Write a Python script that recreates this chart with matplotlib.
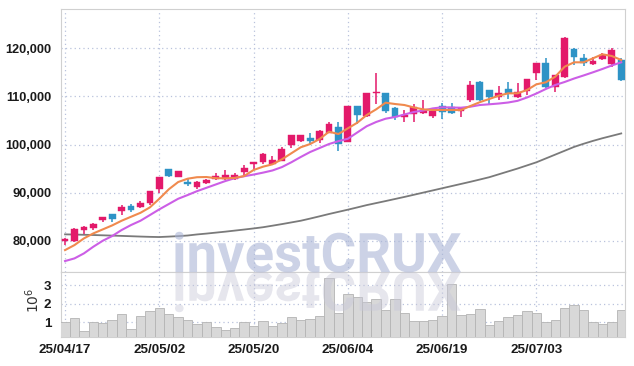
import matplotlib
matplotlib.use("Agg")
import matplotlib.pyplot as plt
from matplotlib.patches import PathPatch
from matplotlib.textpath import TextPath
from matplotlib.font_manager import FontProperties
from matplotlib.transforms import Affine2D, IdentityTransform
from matplotlib.ticker import FuncFormatter

# ----------------------------
# Data
# ----------------------------
dates = ["25/04/17", "25/05/02", "25/05/20", "25/06/04", "25/06/19", "25/07/03"]
date_pos = [0, 10, 20, 30, 40, 50]

opens = [79860, 79900, 82200, 82700, 84300, 85500, 86160, 87200, 87060, 87830,
         90800, 94900, 93300, 92260, 91220, 91920, 92750, 92750, 92750, 94350,
         96000, 96430, 96000, 96630, 99890, 100790, 101350, 100930, 102460, 103570,
         100600, 108070, 105920, 110700, 110710, 107650, 105780, 106280, 106610, 105980,
         107940, 107740, 107030, 109250, 113000, 111330, 109940, 111540, 109810, 111190,
         114940, 116950, 112020, 114100, 119790, 118060, 116740, 117780, 116740, 117570]
highs = [80500, 82700, 83000, 83600, 85000, 85600, 87400, 87600, 88200, 90400,
         93300, 94950, 94500, 92900, 92350, 92800, 94000, 94690, 94000, 95730,
         96400, 98230, 97600, 99540, 101950, 101950, 102320, 103010, 104740, 104740,
         108050, 108100, 110750, 114800, 110750, 107700, 107170, 108350, 109250, 107200,
         108560, 108690, 107860, 113210, 113200, 111400, 112230, 113060, 112720, 113700,
         117000, 117920, 114500, 122300, 120100, 118760, 118260, 119000, 120000, 117900]
lows = [79080, 79800, 81320, 82300, 83800, 83900, 85300, 85900, 86700, 87400,
        89970, 93300, 93200, 91400, 90740, 91800, 92700, 92600, 92600, 93580,
        94830, 95940, 95900, 96500, 99200, 100500, 99890, 100370, 102300, 98640,
        100500, 104200, 105800, 108360, 106480, 105090, 104610, 104740, 106300, 105440,
        105230, 106300, 105780, 108900, 109000, 108210, 109250, 109460, 109600, 110290,
        113410, 111680, 110980, 113900, 116530, 116390, 116600, 117500, 116180, 113300]
closes = [80400, 82400, 82800, 83460, 84900, 84500, 87000, 86370, 87900, 90320,
          93240, 93440, 94480, 91840, 92260, 92600, 93440, 93580, 93580, 95110,
          96290, 98020, 96770, 99000, 101900, 101900, 100790, 102800, 104200, 100100,
          108000, 106130, 110700, 110900, 107040, 105780, 106200, 107740, 107170, 106960,
          106700, 106480, 107590, 112370, 109250, 109810, 110640, 110640, 110850, 113620,
          116950, 112020, 114380, 122220, 118260, 116880, 117360, 118610, 119650, 113410]

ma5 = [78050, 79090, 80480, 81520, 82350, 83180, 84150, 84980, 85800, 86930,
       88720, 90680, 92200, 92890, 93200, 93240, 93000, 92970, 93050, 93450,
       94700, 95390, 95880, 96920, 98170, 99420, 100100, 101140, 102660, 102180,
       103360, 104530, 106130, 107310, 108690, 108420, 108210, 107700, 107310, 107170,
       107170, 107170, 107170, 108000, 108800, 109460, 110150, 110640, 110640, 111330,
       112510, 112930, 114100, 116180, 117090, 117090, 117920, 118760, 118400, 117570]
ma20 = [75770, 76320, 77360, 78750, 79990, 80970, 82220, 83260, 84150, 85330,
        86520, 87620, 88720, 89490, 90300, 91000, 91700, 92400, 93000, 93400,
        93750, 94150, 94600, 95300, 96300, 97400, 98440, 99270, 100100, 100700,
        101200, 102500, 103800, 104680, 105360, 105720, 106240, 106760, 107070, 107500,
        107740, 107690, 107650, 107860, 108210, 108360, 108520, 108730, 109080, 109770,
        110600, 111540, 112370, 113000, 113720, 114350, 115010, 115700, 116430, 117090]
ma60 = [81320, 81280, 81230, 81180, 81120, 81060, 81000, 80930, 80860, 80800,
        80760, 80850, 80950, 81080, 81300, 81480, 81680, 81880, 82100, 82320,
        82550, 82800, 83120, 83450, 83800, 84150, 84600, 85070, 85550, 86000,
        86450, 86920, 87400, 87820, 88240, 88670, 89100, 89550, 90000, 90450,
        90900, 91350, 91800, 92250, 92720, 93200, 93800, 94400, 95000, 95650,
        96300, 97100, 97900, 98700, 99500, 100150, 100750, 101300, 101800, 102300]

volumes = [1.04, 1.25, 0.54, 1.04, 0.98, 1.12, 1.46, 0.66, 1.36, 1.62,
           1.79, 1.46, 1.30, 1.12, 0.93, 1.04, 0.77, 0.59, 0.71, 1.04,
           0.82, 1.09, 0.82, 0.98, 1.30, 1.14, 1.20, 1.36, 3.39, 1.52,
           2.54, 2.38, 2.11, 2.27, 1.68, 2.27, 1.52, 1.07, 1.07, 1.12,
           1.36, 3.07, 1.41, 1.46, 1.73, 0.88, 1.09, 1.30, 1.41, 1.63,
           1.52, 1.04, 1.14, 1.79, 1.95, 1.68, 1.04, 0.93, 1.04, 1.68]
volumes = [v * 1e6 for v in volumes]

# ----------------------------
# Styles
# ----------------------------
UP = "#e3196a"
DOWN = "#2e93c6"
GRID = "#b9c2dc"
SPINE = "#d0d0d0"
TICK_FONT = "Liberation Sans"

W, H = 634, 366
fig = plt.figure(figsize=(W / 100, H / 100), dpi=100)
ax = fig.add_axes([61 / W, 1 - 272.3 / H, (625 - 61) / W, (272.3 - 9.3) / H])
axv = fig.add_axes([61 / W, 1 - 337.3 / H, (625 - 61) / W, (337.3 - 272.3) / H], sharex=ax)

n = len(closes)
x = list(range(n))
colors = [UP if c >= o else DOWN for o, c in zip(opens, closes)]
bottoms = [min(o, c) for o, c in zip(opens, closes)]
heights = [max(abs(c - o), 120) for o, c in zip(opens, closes)]

# ----------------------------
# Price panel
# ----------------------------
ax.plot(x, ma60, color="#7a7a7a", lw=1.3, zorder=2)
ax.vlines(x, lows, highs, colors=colors, lw=1.1, zorder=3)
ax.bar(x, heights, bottom=bottoms, width=0.72, color=colors, edgecolor=colors,
       linewidth=0.3, zorder=4)
ax.plot(x, ma20, color="#cc5ee6", lw=1.5, zorder=5)
ax.plot(x, ma5, color="#f08a4e", lw=1.5, zorder=5)

ax.set_xlim(-0.43, 59.4)
ax.set_ylim(73430, 128110)
ax.set_yticks([80000, 90000, 100000, 110000, 120000])
ax.yaxis.set_major_formatter(FuncFormatter(lambda v, p: f"{v:,.0f}"))
ax.set_xticks(date_pos)
ax.tick_params(axis="x", labelbottom=False, length=0)
ax.tick_params(axis="y", length=0, pad=7, labelsize=9.2, labelcolor="#1a1a1a")
for lab in ax.get_yticklabels():
    lab.set_fontfamily(TICK_FONT)
    lab.set_fontweight("bold")
ax.grid(True, linestyle=(0, (1, 2.5)), color=GRID, lw=0.9)
ax.set_axisbelow(True)
for s in ax.spines.values():
    s.set_color(SPINE)

# ----------------------------
# Volume panel
# ----------------------------
axv.bar(x, volumes, width=1.0, color="#d8d8d8", edgecolor="#b4b4b4", linewidth=0.6, zorder=3)
axv.set_ylim(0.2e6, 3.68e6)
axv.set_yticks([1e6, 2e6, 3e6])
axv.yaxis.set_major_formatter(FuncFormatter(lambda v, p: f"{v / 1e6:.0f}"))
axv.set_xticks(date_pos)
axv.set_xticklabels(dates)
axv.tick_params(axis="both", length=0, labelsize=9.6, labelcolor="#1a1a1a")
axv.tick_params(axis="y", pad=7)
axv.tick_params(axis="x", pad=5)
for lab in axv.get_xticklabels() + axv.get_yticklabels():
    lab.set_fontfamily(TICK_FONT)
    lab.set_fontweight("bold")
axv.grid(True, linestyle=(0, (1, 2.5)), color=GRID, lw=0.9)
axv.set_axisbelow(True)
for s in axv.spines.values():
    s.set_color(SPINE)
fig.text(33 / W, 1 - 300 / H, r"$10^6$", rotation=90, ha="center", va="center",
         fontsize=10, color="#333333", family="DejaVu Serif")

# ----------------------------
# Watermark with reflection
# ----------------------------
fp = FontProperties(family="Roboto", weight="bold")
tp = TextPath((0, 0), "investCRUX", size=54.5, prop=fp)
ext = tp.get_extents()
x0 = 175 - ext.x0
base = H - 272
wm = PathPatch(tp, transform=Affine2D().translate(x0, base) + IdentityTransform(),
               facecolor="#aab5d6", edgecolor="none", alpha=0.6, zorder=10)
refl = PathPatch(tp, transform=Affine2D().scale(1, -1).translate(x0, base) + IdentityTransform(),
                 facecolor="#c8c8d8", edgecolor="none", alpha=0.45, zorder=10)
fig.add_artist(wm)
fig.add_artist(refl)

fig.savefig("out.png", dpi=100)
